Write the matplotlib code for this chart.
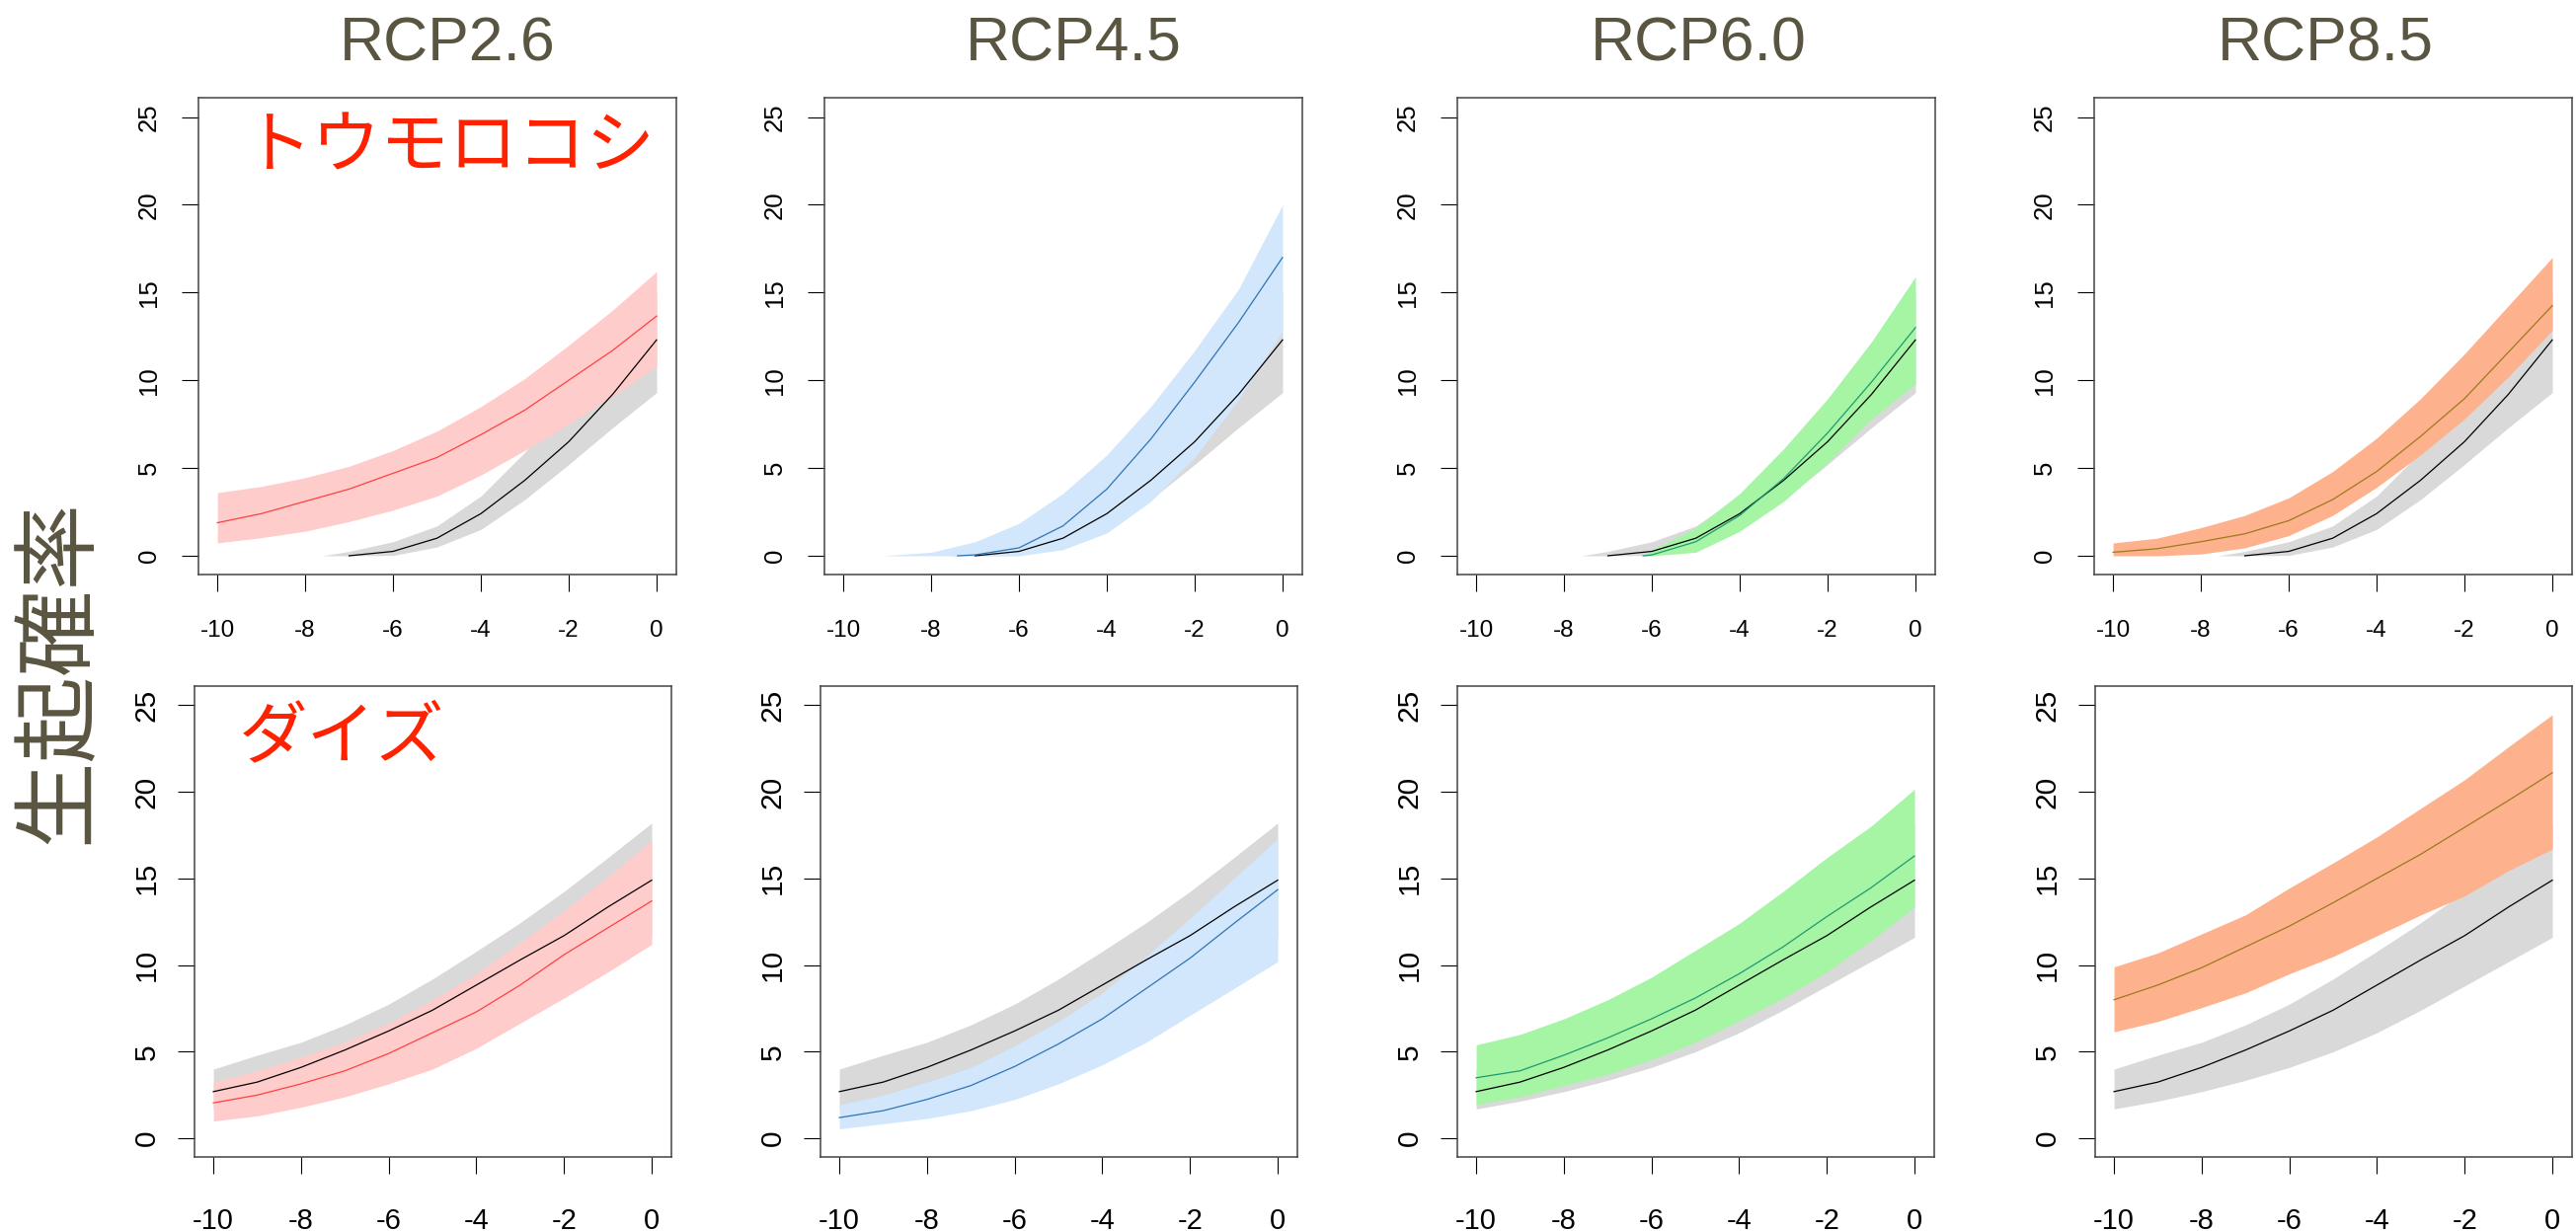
import matplotlib
matplotlib.use("Agg")
import matplotlib.pyplot as plt

plt.rcParams['font.family'] = ['Liberation Sans', 'Noto Sans CJK JP', 'DejaVu Sans']
plt.rcParams['axes.unicode_minus'] = False

# ---- data ----
scenarios = ['RCP2.6', 'RCP4.5', 'RCP6.0', 'RCP8.5']
crops = ['トウモロコシ', 'ダイズ']
xs = [-10, -9, -8, -7, -6, -5, -4, -3, -2, -1, 0]

# baseline (grey) for maize
corn_base_band_x = [-7.6, -7, -6, -5, -4, -3, -2, -1, 0]
corn_base_lo = [0, 0, 0.02, 0.5, 1.5, 3.2, 5.2, 7.3, 9.3]
corn_base_hi = [0, 0.25, 0.8, 1.7, 3.4, 5.9, 8.7, 11.7, 15.0]
corn_base_line_x = [-7, -6, -5, -4, -3, -2, -1, 0]
corn_base_mid = [0, 0.25, 1.0, 2.4, 4.3, 6.5, 9.2, 12.3]

# maize scenarios
corn26_x = xs
corn26_lo = [0.73, 1.03, 1.4, 1.95, 2.6, 3.4, 4.6, 6.0, 7.5, 9.1, 10.8]
corn26_hi = [3.6, 3.95, 4.45, 5.1, 6.0, 7.1, 8.5, 10.1, 12.0, 14.0, 16.2]
corn26_mid_x = xs
corn26_mid = [1.88, 2.4, 3.1, 3.8, 4.7, 5.6, 6.9, 8.3, 10.0, 11.7, 13.66]

corn45_x = [-9.1, -9, -8, -7, -6, -5, -4, -3, -2, -1, 0]
corn45_lo = [0, 0, 0, 0, 0, 0.35, 1.3, 3.1, 5.6, 8.9, 12.8]
corn45_hi = [0, 0.02, 0.2, 0.8, 1.85, 3.55, 5.75, 8.5, 11.7, 15.2, 20.0]
corn45_mid_x = [-7.4, -7, -6, -5, -4, -3, -2, -1, 0]
corn45_mid = [0, 0.05, 0.45, 1.7, 3.8, 6.65, 9.9, 13.3, 17.0]

corn60_x = [-6.2, -6, -5, -4, -3, -2, -1, 0]
corn60_lo = [0, 0, 0.2, 1.4, 3.1, 5.3, 7.8, 9.8]
corn60_hi = [0, 0.3, 1.6, 3.55, 6.1, 8.95, 12.2, 15.9]
corn60_mid_x = [-6.2, -6, -5, -4, -3, -2, -1, 0]
corn60_mid = [0, 0.05, 0.8, 2.3, 4.4, 7.0, 9.9, 13.0]

corn85_x = xs
corn85_lo = [0, 0, 0.1, 0.45, 1.15, 2.3, 3.9, 5.75, 7.8, 10.2, 12.85]
corn85_hi = [0.73, 1.0, 1.6, 2.3, 3.3, 4.8, 6.7, 8.95, 11.5, 14.25, 17.0]
corn85_mid_x = xs
corn85_mid = [0.2, 0.4, 0.8, 1.25, 2.0, 3.2, 4.8, 6.8, 8.95, 11.6, 14.25]

# baseline (grey) for soybean
soy_base_lo = [1.7, 2.15, 2.7, 3.35, 4.1, 5.0, 6.1, 7.4, 8.8, 10.2, 11.6]
soy_base_hi = [4.0, 4.8, 5.55, 6.55, 7.75, 9.2, 10.8, 12.45, 14.25, 16.2, 18.2]
soy_base_mid = [2.7, 3.25, 4.1, 5.1, 6.2, 7.4, 8.85, 10.3, 11.7, 13.35, 14.9]

# soybean scenarios
soy26_lo = [1.0, 1.3, 1.8, 2.4, 3.15, 4.0, 5.2, 6.65, 8.1, 9.6, 11.2]
soy26_hi = [3.25, 3.9, 4.7, 5.55, 6.65, 8.0, 9.5, 11.3, 13.15, 15.1, 17.2]
soy26_mid = [2.05, 2.5, 3.15, 3.9, 4.9, 6.1, 7.3, 8.85, 10.6, 12.15, 13.7]

soy45_lo = [0.55, 0.85, 1.15, 1.6, 2.25, 3.15, 4.25, 5.55, 7.1, 8.65, 10.2]
soy45_hi = [1.95, 2.5, 3.25, 4.1, 5.35, 6.75, 8.4, 10.5, 12.7, 15.0, 17.3]
soy45_mid = [1.2, 1.6, 2.25, 3.05, 4.15, 5.45, 6.9, 8.65, 10.4, 12.4, 14.35]

soy60_lo = [1.95, 2.4, 3.05, 3.7, 4.55, 5.55, 6.8, 8.1, 9.6, 11.4, 13.35]
soy60_hi = [5.4, 6.0, 6.9, 8.0, 9.3, 10.85, 12.4, 14.25, 16.2, 18.0, 20.15]
soy60_mid = [3.5, 3.9, 4.8, 5.8, 6.9, 8.1, 9.5, 11.05, 12.8, 14.45, 16.3]

soy85_lo = [6.15, 6.75, 7.55, 8.4, 9.5, 10.5, 11.7, 12.9, 14.0, 15.45, 16.7]
soy85_hi = [9.9, 10.7, 11.8, 12.9, 14.45, 15.9, 17.4, 19.05, 20.7, 22.6, 24.45]
soy85_mid = [8.0, 8.85, 9.85, 11.05, 12.25, 13.6, 15.0, 16.4, 17.95, 19.5, 21.1]

band_colors = ['#ffcccc', '#d2e6fc', '#a5f5a5', '#fdb18c']
line_colors = ['#ff4040', '#2f74b5', '#1f9a6e', '#9c7a1e']
grey_band = '#d9d9d9'
title_color = '#5a5540'
label_red = '#ff2200'

corn_runs = [
    (corn26_x, corn26_lo, corn26_hi, corn26_mid_x, corn26_mid),
    (corn45_x, corn45_lo, corn45_hi, corn45_mid_x, corn45_mid),
    (corn60_x, corn60_lo, corn60_hi, corn60_mid_x, corn60_mid),
    (corn85_x, corn85_lo, corn85_hi, corn85_mid_x, corn85_mid),
]
soy_runs = [
    (xs, soy26_lo, soy26_hi, xs, soy26_mid),
    (xs, soy45_lo, soy45_hi, xs, soy45_mid),
    (xs, soy60_lo, soy60_hi, xs, soy60_mid),
    (xs, soy85_lo, soy85_hi, xs, soy85_mid),
]
baselines = [
    (corn_base_band_x, corn_base_lo, corn_base_hi, corn_base_line_x, corn_base_mid),
    (xs, soy_base_lo, soy_base_hi, xs, soy_base_mid),
]

# ---- layout (pixels of the 2609x1247 canvas) ----
W, H = 2609, 1247
fig = plt.figure(figsize=(W / 100, H / 100), dpi=100)

row_boxes = [
    dict(top=99, bottom=582, lefts=[201, 835, 1476, 2121], width=484,
         xsize=17.5, ysize=18.5, xpad=21, ypad=15.5),
    dict(top=695, bottom=1172, lefts=[197, 831, 1476, 2122], width=483,
         xsize=21, ysize=21.5, xpad=25, ypad=12.5),
]
title_x = [453, 1087, 1720, 2355]

for r, (runs, box) in enumerate(zip([corn_runs, soy_runs], row_boxes)):
    bx, blo, bhi, bmx, bmid = baselines[r]
    for c in range(4):
        left = box['lefts'][c] / W
        bottom = (H - box['bottom']) / H
        ax = fig.add_axes([left, bottom, box['width'] / W, (box['bottom'] - box['top']) / H])
        x, lo, hi, mx, mid = runs[c]

        ax.fill_between(bx, blo, bhi, color=grey_band, lw=0, zorder=1)
        ax.fill_between(x, lo, hi, color=band_colors[c], lw=0, zorder=2)
        ax.plot(bmx, bmid, color='black', lw=0.9, zorder=3)
        ax.plot(mx, mid, color=line_colors[c], lw=0.9, zorder=4)

        ax.set_xlim(-10.43, 0.45)
        ax.set_ylim(-1.07, 26.1)
        ax.set_xticks([-10, -8, -6, -4, -2, 0])
        ax.set_yticks([0, 5, 10, 15, 20, 25])
        ax.tick_params(axis='both', direction='out', length=12, width=0.8, color='black')
        ax.tick_params(axis='x', labelsize=box['xsize'], pad=box['xpad'])
        ax.tick_params(axis='y', labelsize=box['ysize'], pad=box['ypad'], labelrotation=90)
        for lbl in ax.get_yticklabels():
            lbl.set_verticalalignment('center')
        for s in ax.spines.values():
            s.set_color('#444444')
            s.set_linewidth(1.1)

        if c == 0:
            ax.text(0.093, 0.895 if r == 0 else 0.889, crops[r], transform=ax.transAxes,
                    color=label_red, fontsize=50, ha='left', va='center',
                    family=['Noto Sans CJK JP', 'DejaVu Sans'])

for c, name in enumerate(scenarios):
    fig.text(title_x[c] / W, 1 - 62 / H, name, color=title_color, fontsize=45,
             ha='center', va='baseline')

fig.text(59 / W, 1 - 680 / H, '生起確率', color=title_color, fontsize=63,
         rotation=90, ha='center', va='center',
         family=['Noto Sans CJK JP', 'DejaVu Sans'])

fig.savefig('out.png', dpi=100)
